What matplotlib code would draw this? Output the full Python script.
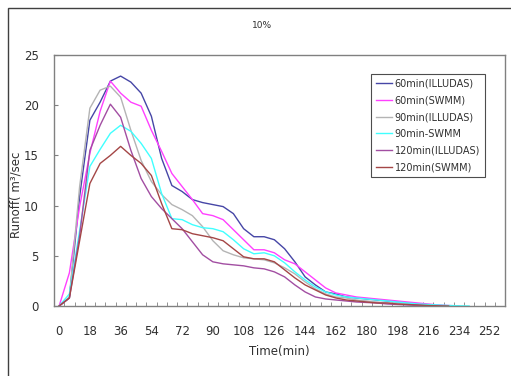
import numpy as np
import matplotlib
matplotlib.use('Agg')
import matplotlib.pyplot as plt
from matplotlib.patches import Rectangle

plt.rcParams['font.family'] = ['DejaVu Sans']

# runoff every 6 minutes, starting at 0
step = 6
illudas_60 = [0, 0.8, 10.9, 18.5, 20.3, 22.4, 22.9, 22.3, 21.2, 18.9, 14.7, 12.0, 11.4, 10.6, 10.3,
              10.1, 9.9, 9.2, 7.7, 6.9, 6.9, 6.6, 5.7, 4.4, 2.9, 2.1, 1.4, 1.2, 0.9, 0.8, 0.7,
              0.6, 0.5, 0.4, 0.3, 0.2, 0.1, 0.05, 0]
swmm_60 = [0, 3.3, 9.9, 15.2, 19.4, 22.4, 21.2, 20.3, 19.9, 17.5, 15.4, 13.2, 11.9, 10.6, 9.2,
           9.0, 8.6, 7.6, 6.6, 5.6, 5.6, 5.3, 4.6, 4.2, 3.4, 2.6, 1.8, 1.3, 1.1, 0.9, 0.8,
           0.7, 0.6, 0.5, 0.4, 0.3, 0.2, 0.1, 0.05, 0]
illudas_90 = [0, 0.9, 11.9, 19.7, 21.5, 21.9, 20.8, 17.5, 14.5, 12.4, 11.1, 10.1, 9.6, 9.0, 7.9,
              6.5, 5.5, 5.1, 4.8, 4.7, 4.6, 4.3, 3.8, 3.2, 2.4, 1.7, 1.2, 0.9, 0.8, 0.6, 0.5,
              0.4, 0.3, 0.3, 0.2, 0.1, 0.05, 0]
swmm_90 = [0, 1.2, 7.5, 13.9, 15.6, 17.2, 18.0, 17.4, 16.2, 14.7, 11.2, 8.7, 8.6, 8.1, 7.8,
           7.7, 7.4, 6.6, 5.7, 5.2, 5.3, 5.0, 4.3, 3.4, 2.6, 1.9, 1.4, 1.1, 0.9, 0.8, 0.7,
           0.6, 0.5, 0.4, 0.3, 0.2, 0.15, 0.1, 0.05, 0.02, 0]
illudas_120 = [0, 0.8, 7.0, 15.5, 18.0, 20.1, 18.8, 15.5, 12.7, 10.9, 9.7, 8.7, 7.7, 6.4, 5.1,
               4.4, 4.2, 4.1, 4.0, 3.8, 3.7, 3.4, 2.9, 2.1, 1.4, 0.9, 0.7, 0.6, 0.5, 0.4, 0.35,
               0.3, 0.2, 0.15, 0.1, 0.05, 0]
swmm_120 = [0, 0.8, 6.5, 12.2, 14.2, 15.0, 15.9, 15.0, 14.2, 13.0, 10.2, 7.7, 7.6, 7.2, 7.0,
            6.8, 6.5, 5.7, 4.9, 4.7, 4.7, 4.4, 3.6, 2.8, 2.1, 1.6, 1.1, 0.8, 0.6, 0.5, 0.4,
            0.3, 0.3, 0.2, 0.15, 0.1, 0.05, 0.02, 0]

series = [
    ('60min(ILLUDAS)', illudas_60, '#4646a6'),
    ('60min(SWMM)', swmm_60, '#ff40ff'),
    ('90min(ILLUDAS)', illudas_90, '#b4b4b4'),
    ('90min-SWMM', swmm_90, '#40ffff'),
    ('120min(ILLUDAS)', illudas_120, '#a24ea2'),
    ('120min(SWMM)', swmm_120, '#a44646'),
]
x_labels = list(range(0, 253, 18))

fig = plt.figure(figsize=(5.11, 3.76), dpi=100)
fig.patches.append(Rectangle((8 / 511, -0.5), 2, 1.5 - 8 / 376, transform=fig.transFigure,
                             fill=False, edgecolor='#404040', linewidth=1.0))
ax = fig.add_axes([54 / 511, 70 / 376, 451 / 511, 251 / 376])

for name, vals, col in series:
    t = np.arange(len(vals)) * step
    ax.plot(t, vals, color=col, linewidth=1.0, label=name)

ax.set_xlim(-3, 261)
ax.set_ylim(0, 25)
ax.set_xticks(x_labels)
ax.set_xticklabels([str(v) for v in x_labels])
ax.set_xticks(np.arange(-3, 262, 6), minor=True)
ax.tick_params(axis='x', which='major', length=0, pad=14, labelsize=8.5, colors='#303030')
ax.tick_params(axis='x', which='minor', direction='in', length=3, color='#808080')
ax.set_yticks([0, 5, 10, 15, 20, 25])
ax.tick_params(axis='y', direction='in', length=3, color='#808080', pad=11, labelsize=8.5,
               labelcolor='#303030')
for s in ax.spines.values():
    s.set_color('#808080')
    s.set_linewidth(1.0)

ax.set_xlabel('Time(min)', fontsize=8.5, color='#303030', labelpad=5)
fig.text(16 / 511, 181 / 376, 'Runoff( m³/sec', fontsize=8.5, rotation=90,
         ha='center', va='center', color='#303030')
fig.text(262 / 511, 1 - 26 / 376, '10%', fontsize=6.5, ha='center', va='center', color='#303030')

leg = ax.legend(loc='upper right', bbox_to_anchor=(0.955, 0.926), fontsize=7, frameon=True,
                fancybox=False, handlelength=1.6, handletextpad=0.3, labelspacing=0.7,
                borderpad=0.5, borderaxespad=0)
leg.get_frame().set_edgecolor('#202020')
leg.get_frame().set_linewidth(0.8)
for txt in leg.get_texts():
    txt.set_color('#303030')

fig.savefig('out.png', dpi=100)
